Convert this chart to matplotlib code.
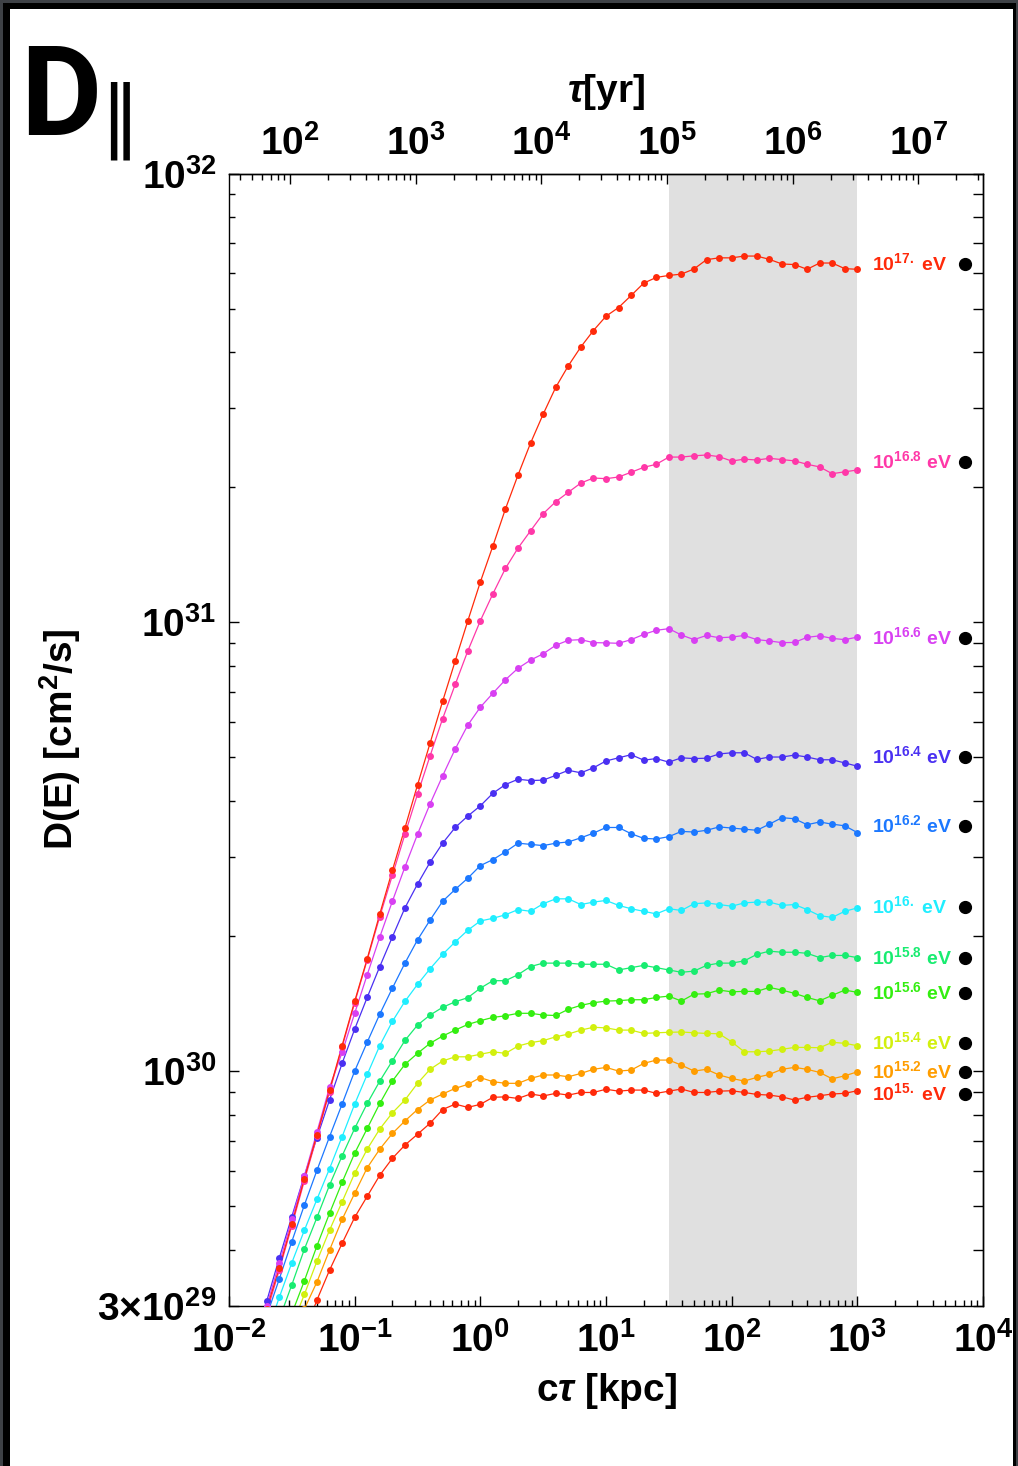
import numpy as np
import matplotlib
matplotlib.use('Agg')
import matplotlib.pyplot as plt
from matplotlib.patches import Rectangle
from matplotlib.ticker import LogLocator, NullFormatter

plt.rcParams['font.family'] = ['Liberation Sans', 'DejaVu Sans']
plt.rcParams['font.weight'] = 'bold'
plt.rcParams['mathtext.fontset'] = 'custom'
plt.rcParams['mathtext.rm'] = 'Liberation Sans:bold'
plt.rcParams['mathtext.bf'] = 'Liberation Sans:bold'
plt.rcParams['mathtext.sf'] = 'Liberation Sans:bold'
plt.rcParams['mathtext.it'] = 'Liberation Sans:bold:italic'

# sample grid: log10(c tau / kpc) from -1.8 to 3.0, every curve ends at 10^3 kpc
ctau = 10.0 ** (np.arange(-18, 31) / 10)
kpc_in_yr = 3261.56

# D(E) in units of 1e30 cm^2/s
D_17_0 = [0.235, 0.295, 0.364, 0.457, 0.576, 0.722, 0.906, 1.14, 1.43, 1.78,
          2.24, 2.80, 3.48, 4.34, 5.38, 6.67, 8.2, 10.07, 12.3, 14.8,
          17.9, 21.3, 25.1, 29.1, 33.4, 37.3, 41.1, 44.7, 48.1, 50.3,
          53.5, 57.0, 58.7, 59.3, 59.7, 61.3, 64.3, 64.9, 64.9, 65.5,
          65.5, 64.4, 62.9, 62.7, 61.2, 63.2, 63.2, 61.4, 61.2]
D_16_8 = [0.23, 0.29, 0.36, 0.452, 0.57, 0.715, 0.90, 1.13, 1.42, 1.77,
          2.21, 2.73, 3.37, 4.14, 5.04, 6.10, 7.27, 8.63, 10.08, 11.58,
          13.19, 14.64, 16.0, 17.46, 18.57, 19.49, 20.44, 20.97, 20.9, 21.08,
          21.6, 22.15, 22.5, 23.35, 23.35, 23.5, 23.6, 23.4, 22.88, 23.1,
          23.0, 23.2, 23.05, 22.9, 22.5, 22.2, 21.44, 21.65, 21.85]
D_16_6 = [0.24, 0.30, 0.373, 0.467, 0.584, 0.732, 0.92, 1.10, 1.345, 1.64,
          1.99, 2.39, 2.85, 3.37, 3.94, 4.55, 5.22, 5.90, 6.47, 6.95,
          7.45, 7.9, 8.24, 8.51, 8.89, 9.12, 9.15, 9.01, 9.0, 8.98,
          9.15, 9.40, 9.60, 9.68, 9.37, 9.15, 9.35, 9.24, 9.27, 9.35,
          9.15, 9.09, 9.01, 9.02, 9.26, 9.33, 9.21, 9.15, 9.27]
D_16_4 = [0.245, 0.307, 0.383, 0.474, 0.585, 0.711, 0.862, 1.04, 1.24, 1.46,
          1.71, 1.99, 2.31, 2.61, 2.92, 3.22, 3.49, 3.70, 3.90, 4.16,
          4.35, 4.47, 4.44, 4.45, 4.56, 4.68, 4.62, 4.74, 4.91, 4.99,
          5.07, 4.93, 4.97, 4.88, 4.99, 4.97, 4.98, 5.09, 5.12, 5.12,
          4.95, 5.01, 5.01, 5.06, 5.01, 4.94, 4.94, 4.86, 4.78]
D_16_2 = [0.285, 0.344, 0.417, 0.503, 0.601, 0.714, 0.844, 1.0, 1.16,
          1.34, 1.53, 1.74, 1.96, 2.17, 2.39, 2.54, 2.69, 2.87, 2.96,
          3.08, 3.22, 3.20, 3.18, 3.22, 3.24, 3.31, 3.39, 3.49, 3.49,
          3.38, 3.30, 3.29, 3.33, 3.42, 3.41, 3.44, 3.50, 3.48, 3.46,
          3.44, 3.55, 3.67, 3.65, 3.54, 3.59, 3.55, 3.52, 3.40]
D_16_0 = [0.26, 0.313, 0.374, 0.442, 0.518, 0.606, 0.714, 0.844, 0.983,
          1.14, 1.29, 1.43, 1.56, 1.69, 1.82, 1.94, 2.06, 2.16, 2.19,
          2.23, 2.29, 2.27, 2.36, 2.42, 2.42, 2.35, 2.38, 2.40, 2.34,
          2.30, 2.27, 2.24, 2.30, 2.28, 2.36, 2.37, 2.35, 2.33, 2.37,
          2.38, 2.38, 2.34, 2.35, 2.29, 2.22, 2.20, 2.27, 2.31]
D_15_8 = [0.28, 0.334, 0.401, 0.472, 0.557, 0.647, 0.745, 0.847,
          0.950, 1.054, 1.17, 1.266, 1.333, 1.387, 1.427, 1.457, 1.53, 1.59,
          1.59, 1.64, 1.71, 1.74, 1.74, 1.74, 1.73, 1.73, 1.73, 1.68,
          1.70, 1.72, 1.70, 1.68, 1.66, 1.67, 1.72, 1.74, 1.74, 1.76,
          1.82, 1.85, 1.84, 1.84, 1.83, 1.79, 1.81, 1.81, 1.79]
D_15_6 = [0.24, 0.288, 0.341, 0.408, 0.482, 0.565, 0.656, 0.745,
          0.847, 0.950, 1.035, 1.095, 1.153, 1.197, 1.234, 1.27, 1.295, 1.317,
          1.328, 1.345, 1.345, 1.333, 1.33, 1.373, 1.401, 1.42, 1.432, 1.435,
          1.442, 1.442, 1.459, 1.469, 1.432, 1.484, 1.487, 1.515, 1.502, 1.505,
          1.505, 1.536, 1.515, 1.49, 1.459, 1.434, 1.475, 1.515, 1.498]
D_15_4 = [0.27, 0.318, 0.377, 0.442, 0.511, 0.592, 0.670,
          0.743, 0.807, 0.862, 0.939, 1.009, 1.053, 1.076, 1.076, 1.09, 1.104,
          1.095, 1.137, 1.157, 1.169, 1.192, 1.209, 1.234, 1.252, 1.248, 1.234,
          1.234, 1.213, 1.217, 1.22, 1.222, 1.217, 1.213, 1.211, 1.162, 1.104,
          1.104, 1.108, 1.118, 1.129, 1.129, 1.127, 1.159, 1.153, 1.139]
D_15_2 = [0.25, 0.295, 0.339, 0.399, 0.467, 0.534, 0.609,
          0.670, 0.726, 0.774, 0.821, 0.862, 0.889, 0.915, 0.934, 0.967, 0.947,
          0.939, 0.939, 0.963, 0.980, 0.980, 0.971, 0.988, 1.009, 1.019, 1.0,
          1.005, 1.040, 1.058, 1.058, 1.031, 1.0, 1.009, 0.980, 0.963, 0.950,
          0.968, 0.983, 1.009, 1.019, 1.009, 0.993, 0.961, 0.976, 0.996]
D_15_0 = [0.26, 0.309, 0.36, 0.413, 0.472, 0.526,
          0.586, 0.639, 0.684, 0.723, 0.765, 0.821, 0.844, 0.830, 0.843, 0.874,
          0.876, 0.869, 0.889, 0.88, 0.892, 0.884, 0.896, 0.896, 0.911, 0.902,
          0.907, 0.907, 0.892, 0.902, 0.912, 0.896, 0.896, 0.902, 0.904, 0.896,
          0.887, 0.884, 0.876, 0.862, 0.874, 0.881, 0.889, 0.892, 0.904]

energies = ['15.', '15.2', '15.4', '15.6', '15.8', '16.', '16.2', '16.4', '16.6', '16.8', '17.']
series = [D_15_0, D_15_2, D_15_4, D_15_6, D_15_8, D_16_0, D_16_2, D_16_4, D_16_6, D_16_8, D_17_0]
colors = ['#ff2a0a', '#ff9d00', '#d2f00f', '#34ee10', '#18ec70', '#20eeff',
          '#1c78ff', '#4a30f2', '#d840f2', '#ff38a8', '#ff2a0a']
# asymptotic values marked by the black dots (1e30 cm^2/s)
D_asym = [0.889, 0.995, 1.154, 1.492, 1.786, 2.32, 3.52, 5.01, 9.23, 22.8, 62.9]

fig = plt.figure(figsize=(10.18, 14.66), dpi=100)
ax = fig.add_axes([229 / 1018, 1 - 1305.7 / 1466, 754 / 1018, 1132.1 / 1466])

ax.axvspan(10 ** 1.5, 1e3, color='#e0e0e0', lw=0, zorder=0)

for vals, c in zip(series, colors):
    v = np.array(vals) * 1e30
    x = ctau[-len(v):]
    ax.plot(x, v, '-', color=c, lw=0.9, zorder=2)
    ax.plot(x, v, 'o', color=c, ms=5, mew=0, zorder=3)

for e, d, c in zip(energies, D_asym, colors):
    ax.annotate(r'$10^{%s}$ eV' % e, (10 ** 3.115, d * 1e30), xytext=(0, -6),
                textcoords='offset pixels', ha='left', va='baseline',
                color=c, fontsize=14, fontweight='bold')
    ax.plot(10 ** 3.855, d * 1e30, 'o', color='k', ms=8.5, zorder=4)

ax.set_xscale('log')
ax.set_yscale('log')
ax.set_xlim(1e-2, 1e4)
ax.set_ylim(3e29, 1e32)

ax.set_xticks([10.0 ** k for k in range(-2, 5)],
              [r'$10^{%d}$' % k for k in range(-2, 5)])
ax.xaxis.set_minor_locator(LogLocator(base=10, subs=range(2, 10), numticks=30))
ax.xaxis.set_minor_formatter(NullFormatter())
ax.set_yticks([3e29, 1e30, 1e31, 1e32],
              [r'$3{\times}10^{29}$', r'$10^{30}$', r'$10^{31}$', r'$10^{32}$'])
ax.yaxis.set_minor_locator(LogLocator(base=10, subs=range(2, 10), numticks=30))
ax.yaxis.set_minor_formatter(NullFormatter())

ax.tick_params(which='both', direction='in', top=False, right=False, width=1.0,
               labelsize=28)
ax.tick_params(which='major', length=7.5)
ax.tick_params(which='minor', length=4.5)
ax.tick_params(axis='x', pad=12)
ax.tick_params(axis='y', pad=9)
for s in ax.spines.values():
    s.set_linewidth(1.0)

# right side ticks are longer than the left ones
secy = ax.secondary_yaxis('right')
secy.set_yticks([1e30, 1e31, 1e32], ['', '', ''])
secy.yaxis.set_minor_locator(LogLocator(base=10, subs=range(2, 10), numticks=30))
secy.yaxis.set_minor_formatter(NullFormatter())
secy.tick_params(which='both', direction='in', width=1.0, length=7.5)
secy.spines['right'].set_linewidth(1.0)

sec = ax.secondary_xaxis('top', functions=(lambda x: x * kpc_in_yr, lambda t: t / kpc_in_yr))
sec.set_xticks([10.0 ** k for k in range(2, 8)], [r'$10^{%d}$' % k for k in range(2, 8)])
sec.xaxis.set_minor_locator(LogLocator(base=10, subs=range(2, 10), numticks=30))
sec.xaxis.set_minor_formatter(NullFormatter())
sec.tick_params(which='both', direction='in', width=1.0, labelsize=28, pad=8)
sec.tick_params(which='major', length=7.5)
sec.tick_params(which='minor', length=4.5)
sec.spines['top'].set_linewidth(1.0)
sec.set_xlabel(r'$\tau$[yr]', fontsize=28, fontweight='bold', labelpad=16)

ax.set_xlabel(r'c$\tau$ [kpc]', fontsize=28, fontweight='bold', labelpad=8)
ax.set_ylabel(r'D(E) [cm$^2$/s]', fontsize=28, fontweight='bold', labelpad=10)

# panel title
fig.text(20 / 1018, 1 - 135 / 1466, 'D', fontsize=90, fontweight='bold',
         family=['Roboto', 'Liberation Sans'], ha='left', va='baseline')
fig.text(100 / 1018, 1 - 141.6 / 1466, '\u2016', fontsize=56, fontweight='normal',
         family='DejaVu Sans', ha='left', va='baseline')

# dark frame around the panel
for (x0, y0, w, h, col) in [(0, 0, 1018, 3, '#3e4146'), (0, 3, 1018, 6, '#000000'),
                            (0, 0, 3, 1466, '#3e4146'), (3, 3, 7, 1463, '#000000'),
                            (1016, 0, 2, 1466, '#3e4146'), (1013, 3, 3, 1463, '#000000')]:
    fig.patches.append(Rectangle((x0 / 1018, 1 - (y0 + h) / 1466), w / 1018, h / 1466,
                                 transform=fig.transFigure, color=col, lw=0, zorder=10))

fig.savefig('out.png', dpi=100, facecolor='white')
